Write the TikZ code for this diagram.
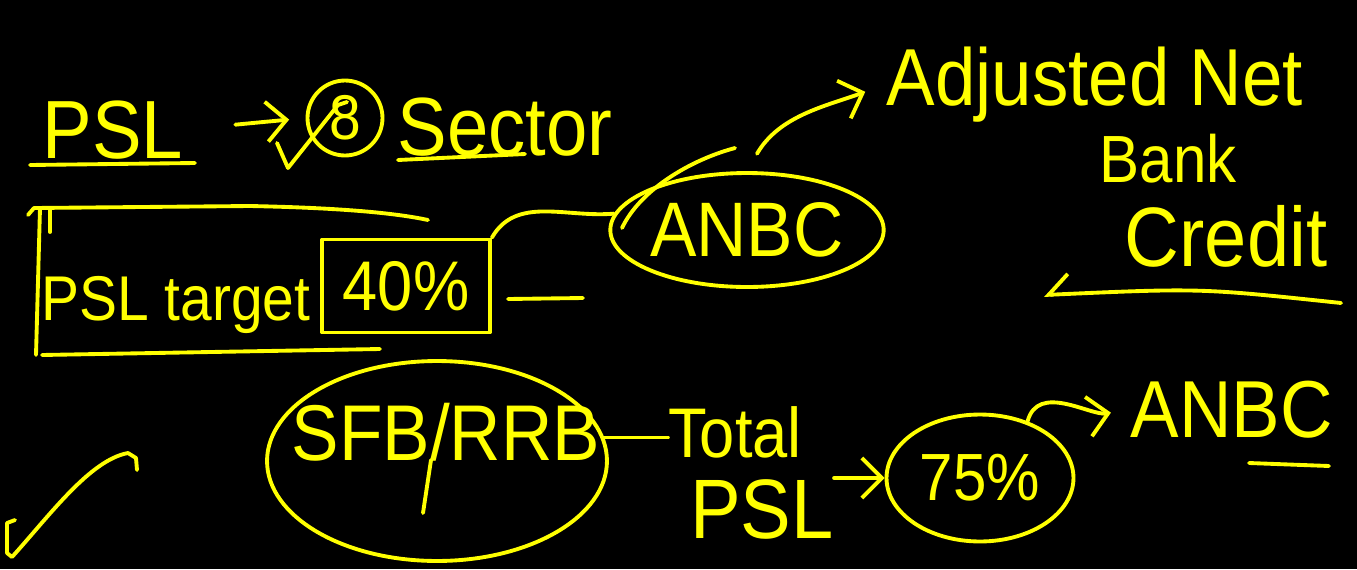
\documentclass[tikz,border=0pt]{standalone}
\usepackage{fontspec}
\newfontfamily\hand[FakeStretch=0.9]{Liberation Sans}
\usetikzlibrary{shapes.geometric,arrows.meta}
\definecolor{marker}{RGB}{255,255,0}

\begin{document}
\begin{tikzpicture}[x=0.02cm, y=0.02cm,
	pen/.style={draw=marker, line width=2.2pt, line cap=round, line join=round},
	ink/.style={text=marker, font=\hand\fontsize{#1}{#1}\selectfont},
	word/.style={ink=#1, anchor=base, inner sep=0pt},
	ring/.style={pen, ellipse, inner sep=0pt},
	>={Straight Barb[length=4mm,width=8mm]}]
				\fill[black] (0,0) rectangle (1357,-569);
				\useasboundingbox (0,0) rectangle (1357,-569);
				\node[word=47] (psl) at (113,-158) {PSL};
				\node[pen, circle, ink=36, minimum size=1.5cm, inner sep=0pt] (eight) at (345,-118) {8};
				\node[word=47] (sector) at (505,-155) {Sector};
				\node[word=36] (target) at (176,-320) {PSL target};
				\node[pen, rectangle, ink=40, minimum width=3.36cm, minimum height=1.86cm, inner sep=0pt] (pct40) at (406,-286) {40\%};
				\node[ring, ink=44, minimum width=5.02cm, minimum height=2.28cm] (anbc) at (747,-230) {ANBC};
				\node[word=46] (adj) at (1095,-105) {Adjusted Net};
				\node[word=38] (bank) at (1168,-182) {Bank};
				\node[word=48] (credit) at (1226,-266) {Credit};
				\node[ring, minimum width=6.8cm, minimum height=4cm] (sfb) at (437,-461) {};
				\node[word=45] (sfbtext) at (446,-460) {SFB/RRB};
				\node[word=40] (total) at (735,-457) {Total};
				\node[word=48] (tpsl) at (762,-538) {PSL};
				\node[ring, ink=38, minimum width=3.74cm, minimum height=2.54cm] (pct75) at (980,-478) {75\%};
				\node[word=46] (anbc2) at (1232,-437) {ANBC};
				\coordinate (credtail) at (1341,-303);
				\coordinate (credtip) at (1044,-295);
				\draw[pen] (30,-165) -- (195,-163);
				\draw[pen] (398,-160) -- (525,-154);
				\draw[pen, ->, shorten <=1.04cm, shorten >=0.33cm] (psl.east) -- (eight.west);
				\draw[pen] (277,-143) -- (288,-168) -- (338,-105) -- (347,-102);
				\draw[pen] (28,-215) -- (34,-208) -- (250,-206) .. controls (350,-208) and (400,-214) .. (428,-220);
				\draw[pen] (40,-208) -- (36,-355);
				\draw[pen] (50,-210) -- (50,-232);
				\draw[pen] (42,-355) -- (380,-349);
				\draw[pen] (508,-299) -- (583,-298);
				\draw[pen] (pct40.north east) to[out=60, in=185] (anbc.173);
				\draw[pen] (735,-148) .. controls (690,-160) and (640,-190) .. (622,-228);
				\draw[pen, ->, shorten <=0.4cm, shorten >=0.45cm] (anbc.north) to[out=60, in=200] (adj.west);
				\draw[pen, -{Straight Barb[right, length=4mm, width=8mm]}] (credtail) .. controls (1200,-288) .. (credtip);
				\draw[pen] (431,-460) -- (423,-513);
				\draw[pen] (sfb.8) -- (sfb.8 -| total.west);
				\draw[pen, ->] (pct75.west -| tpsl.east) -- (pct75.west);
				\draw[pen, ->, shorten >=0.4cm] (pct75.50) to[out=75, in=190] (anbc2.west);
				\draw[pen] (1249,-463) -- (1329,-466);
				\draw[pen] (15,-520) -- (7,-523) -- (7,-553) -- (12,-557) .. controls (50,-515) and (90,-460) .. (128,-453) -- (136,-458) -- (137,-470);
			\end{tikzpicture}
\end{document}
